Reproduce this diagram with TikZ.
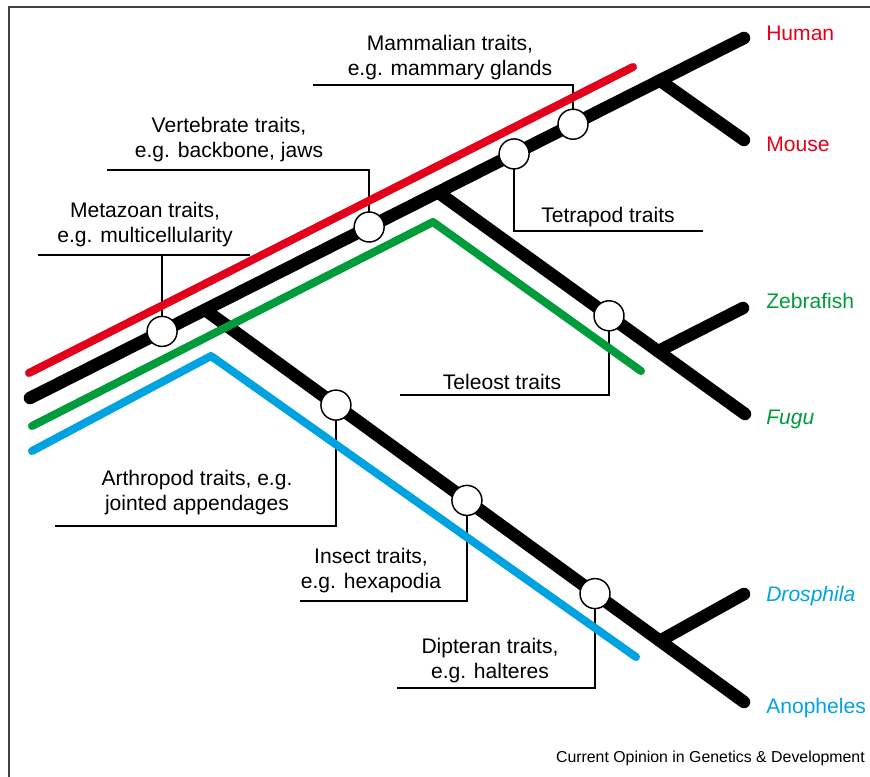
\documentclass[tikz,border=0pt]{standalone}
\usepackage{fontspec}
\setmainfont{Liberation Sans}
\usetikzlibrary{calc}
\definecolor{hred}{HTML}{E2001A}
\definecolor{fgreen}{HTML}{009B3A}
\definecolor{dblue}{HTML}{00A3E0}
\pgfdeclarelayer{callout}
\pgfdeclarelayer{blackl}
\pgfdeclarelayer{colourl}
\pgfsetlayers{callout,blackl,colourl,main}
\tikzset{
  tree/.style={line width=9.4pt, line cap=round, black},
  lineage/.style={line width=6pt, line cap=round, line join=round},
  callout/.style={line width=1.1pt, black},
  trait/.style={circle, draw, fill=white, line width=1.1pt, minimum size=22.5pt, inner sep=0pt},
  txt/.style={font=\fontsize{15.8}{18.8}\selectfont, align=center, inner sep=0pt},
  sp/.style={font=\fontsize{15.8}{18.8}\selectfont, anchor=west, inner sep=0pt},
}
\begin{document}
\begin{tikzpicture}[x=0.75pt,y=-0.75pt]
\useasboundingbox (0,0) rectangle (870,777);
\draw[line width=1.5pt, black!75] (9,777) -- (9,7) -- (870,7);

% tree skeleton
\coordinate (A) at (30,398);
\coordinate (B) at (744,38);
\coordinate (J1) at ($(A)!0.245!(B)$);
\coordinate (J2) at ($(A)!0.5714!(B)$);
\coordinate (J3) at ($(A)!0.882!(B)$);
\coordinate (anoE) at (744,702);
\coordinate (fugE) at (745,414);
\coordinate (mouE) at (744,140);
\coordinate (droE) at (744,594);
\coordinate (zebE) at (743,308);
\coordinate (J4) at ($(J1)!0.844!(anoE)$);
\coordinate (J5) at ($(J2)!0.717!(fugE)$);

% trait circles
\node[trait] (met) at ($(A)!0.185!(B)$) {};
\node[trait] (ver) at ($(A)!0.475!(B)$) {};
\node[trait] (tet) at ($(A)!0.678!(B)$) {};
\node[trait] (mam) at ($(A)!0.7605!(B)$) {};
\node[trait] (tel) at ($(J2)!0.557!(fugE)$) {};
\node[trait] (art) at ($(J1)!0.243!(anoE)$) {};
\node[trait] (ins) at ($(J1)!0.486!(anoE)$) {};
\node[trait] (dip) at ($(J1)!0.7236!(anoE)$) {};

\begin{pgfonlayer}{blackl}
\draw[tree] (A) -- (B);
\draw[tree] (J1) -- (anoE);
\draw[tree] (J2) -- (fugE);
\draw[tree] (J3) -- (mouE);
\draw[tree] (J4) -- (droE);
\draw[tree] (J5) -- (zebE);
\end{pgfonlayer}

\begin{pgfonlayer}{colourl}
\coordinate (r1) at (29,373);
\coordinate (r2) at (633,67);
\coordinate (g1) at (32,426);
\coordinate (g2) at (433,222);
\coordinate (g3) at (641,371);
\coordinate (b1) at (32,451);
\coordinate (b2) at (211,356);
\coordinate (b3) at (636,657);
\draw[lineage, hred] (r1) -- (r2);
\draw[lineage, fgreen] (g1) -- (g2) -- (g3);
\draw[lineage, dblue] (b1) -- (b2) -- (b3);
\end{pgfonlayer}

% callouts
\coordinate (metL) at (38,255);
\coordinate (metR) at (250,255);
\coordinate (verC) at (107,170);
\coordinate (mamC) at (313,85);
\coordinate (tetC) at (703,231);
\coordinate (telC) at (400,395);
\coordinate (artC) at (55,526);
\coordinate (insC) at (300,601);
\coordinate (dipC) at (397,688);
\begin{pgfonlayer}{callout}
\draw[callout] (metL) -- (metR);
\draw[callout] (met.center) -- (met.center |- metL);
\draw[callout] (ver.center) |- (verC);
\draw[callout] (mam.center) |- (mamC);
\draw[callout] (tet.center) |- (tetC);
\draw[callout] (tel.center) |- (telC);
\draw[callout] (art.center) |- (artC);
\draw[callout] (ins.center) |- (insC);
\draw[callout] (dip.center) |- (dipC);
\end{pgfonlayer}

% trait texts
\node[txt] (tmam) at (450,58) {Mammalian traits,\\e.g. mammary glands};
\node[txt] (tver) at (229,140) {Vertebrate traits,\\e.g. backbone, jaws};
\node[txt] (tmet) at (145,225) {Metazoan traits,\\e.g. multicellularity};
\node[txt] (ttet) at (608,217) {Tetrapod traits};
\node[txt] (ttel) at (502,382) {Teleost traits};
\node[txt] (tart) at (197,493) {Arthropod traits, e.g.\\jointed appendages};
\node[txt] (tins) at (371,571) {Insect traits,\\e.g. hexapodia};
\node[txt] (tdip) at (490,661) {Dipteran traits,\\e.g. halteres};

% species
\node[sp, text=hred] (hum) at (766,33) {Human};
\node[sp, text=hred] (mou) at (766,144) {Mouse};
\node[sp, text=fgreen] (zeb) at (766,301) {Zebrafish};
\node[sp, text=fgreen] (fug) at (766,419) {\itshape Fugu};
\node[sp, text=dblue] (dro) at (766,596) {\itshape Drosphila};
\node[sp, text=dblue] (ano) at (766,708) {Anopheles};

\node[font=\fontsize{11.9}{14}\selectfont, anchor=east, inner sep=0pt] (cr) at (865,758) {Current Opinion in Genetics \& Development};
\end{tikzpicture}
\end{document}
